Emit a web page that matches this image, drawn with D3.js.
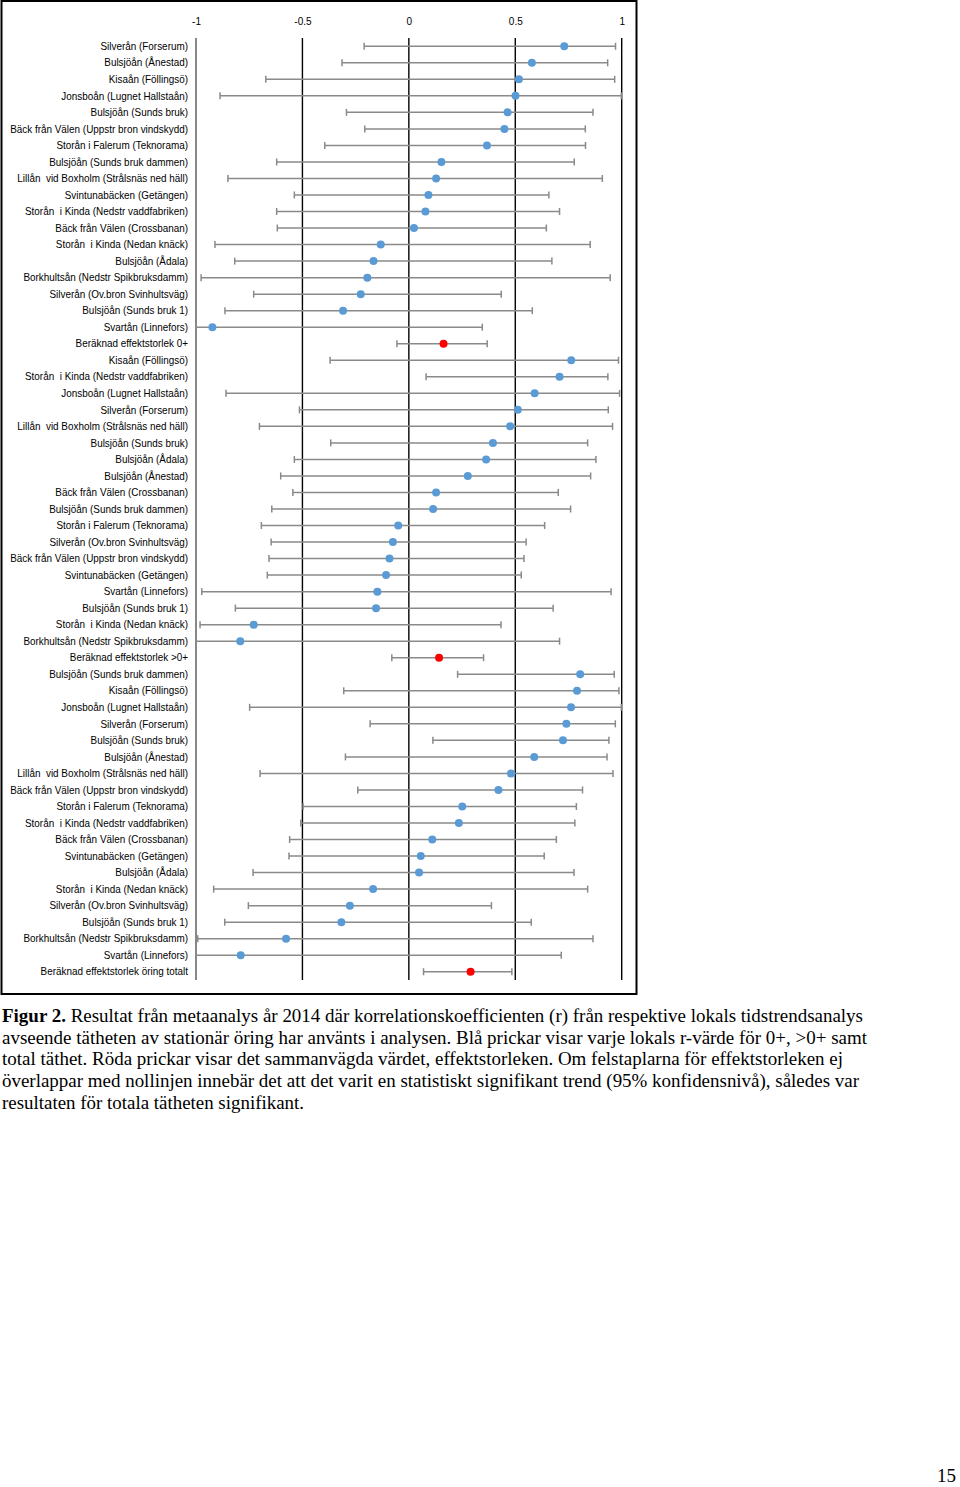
<!DOCTYPE html>
<html><head><meta charset="utf-8">
<script src="https://cdn.jsdelivr.net/npm/d3@7"></script>
<style>
html,body{margin:0;padding:0;background:#fff;}
svg{display:block;}
.lab{white-space:pre;}
</style></head>
<body>
<svg id="chart" width="960" height="1487"></svg>
<script>
// ---- data ----
const labels = [
"Silverån (Forserum)","Bulsjöån (Ånestad)","Kisaån (Föllingsö)","Jonsboån (Lugnet Hallstaån)","Bulsjöån (Sunds bruk)",
"Bäck från Välen (Uppstr bron vindskydd)","Storån i Falerum (Teknorama)","Bulsjöån (Sunds bruk dammen)","Lillån  vid Boxholm (Strålsnäs ned häll)",
"Svintunabäcken (Getängen)","Storån  i Kinda (Nedstr vaddfabriken)","Bäck från Välen (Crossbanan)","Storån  i Kinda (Nedan knäck)",
"Bulsjöån (Ådala)","Borkhultsån (Nedstr Spikbruksdamm)","Silverån (Ov.bron Svinhultsväg)","Bulsjöån (Sunds bruk 1)","Svartån (Linnefors)",
"Beräknad effektstorlek 0+",
"Kisaån (Föllingsö)","Storån  i Kinda (Nedstr vaddfabriken)","Jonsboån (Lugnet Hallstaån)","Silverån (Forserum)","Lillån  vid Boxholm (Strålsnäs ned häll)",
"Bulsjöån (Sunds bruk)","Bulsjöån (Ådala)","Bulsjöån (Ånestad)","Bäck från Välen (Crossbanan)","Bulsjöån (Sunds bruk dammen)",
"Storån i Falerum (Teknorama)","Silverån (Ov.bron Svinhultsväg)","Bäck från Välen (Uppstr bron vindskydd)","Svintunabäcken (Getängen)",
"Svartån (Linnefors)","Bulsjöån (Sunds bruk 1)","Storån  i Kinda (Nedan knäck)","Borkhultsån (Nedstr Spikbruksdamm)",
"Beräknad effektstorlek >0+",
"Bulsjöån (Sunds bruk dammen)","Kisaån (Föllingsö)","Jonsboån (Lugnet Hallstaån)","Silverån (Forserum)","Bulsjöån (Sunds bruk)",
"Bulsjöån (Ånestad)","Lillån  vid Boxholm (Strålsnäs ned häll)","Bäck från Välen (Uppstr bron vindskydd)","Storån i Falerum (Teknorama)",
"Storån  i Kinda (Nedstr vaddfabriken)","Bäck från Välen (Crossbanan)","Svintunabäcken (Getängen)","Bulsjöån (Ådala)",
"Storån  i Kinda (Nedan knäck)","Silverån (Ov.bron Svinhultsväg)","Bulsjöån (Sunds bruk 1)","Borkhultsån (Nedstr Spikbruksdamm)",
"Svartån (Linnefors)","Beräknad effektstorlek öring totalt"
];
const rValues = [
0.730,0.578,0.517,0.501,0.464,0.449,0.367,0.153,0.128,0.092,0.078,0.024,-0.132,-0.166,-0.195,-0.226,-0.309,-0.923,
0.163,
0.763,0.708,0.591,0.512,0.476,0.395,0.363,0.277,0.128,0.114,-0.050,-0.075,-0.091,-0.107,-0.148,-0.154,-0.729,-0.792,
0.142,
0.805,0.790,0.762,0.740,0.724,0.589,0.480,0.421,0.251,0.235,0.110,0.056,0.048,-0.168,-0.277,-0.317,-0.577,-0.790,
0.290
];
const lowerCI = [
-0.210,-0.314,-0.672,-0.887,-0.293,-0.207,-0.395,-0.621,-0.850,-0.538,-0.621,-0.618,-0.911,-0.818,-0.976,-0.729,-0.864,-1.0,
-0.056,
-0.370,0.081,-0.859,-0.514,-0.702,-0.367,-0.538,-0.602,-0.545,-0.644,-0.693,-0.647,-0.657,-0.665,-0.973,-0.815,-0.981,-1.0,
-0.080,
0.229,-0.306,-0.748,-0.182,0.113,-0.298,-0.699,-0.240,-0.497,-0.508,-0.560,-0.563,-0.732,-0.917,-0.754,-0.865,-0.992,-1.0,
0.069
];
const upperCI = [
0.971,0.934,0.967,0.998,0.865,0.829,0.830,0.777,0.909,0.658,0.708,0.646,0.852,0.672,0.946,0.434,0.580,0.345,
0.368,
0.985,0.935,0.990,0.937,0.957,0.840,0.879,0.854,0.702,0.760,0.638,0.551,0.541,0.528,0.950,0.678,0.433,0.708,
0.351,
0.965,0.987,0.998,0.970,0.940,0.931,0.959,0.816,0.787,0.780,0.693,0.636,0.776,0.840,0.388,0.575,0.865,0.716,
0.484
];
const tickValues = [-1,-0.5,0,0.5,1];
const tickLabels = ["-1","-0.5","0","0.5","1"];
const captionLines = [
" Resultat från metaanalys år 2014 där korrelationskoefficienten (r) från respektive lokals tidstrendsanalys",
"avseende tätheten av stationär öring har använts i analysen. Blå prickar visar varje lokals r-värde för 0+, >0+ samt",
"total täthet. Röda prickar visar det sammanvägda värdet, effektstorleken. Om felstaplarna för effektstorleken ej",
"överlappar med nollinjen innebär det att det varit en statistiskt signifikant trend (95% konfidensnivå), således var",
"resultaten för totala tätheten signifikant."
];

// ---- chart ----
const svg = d3.select("#chart");
const rows = labels.map((l,i)=>({i, label:l, r:rValues[i], lo:lowerCI[i], hi:upperCI[i], summary:l.startsWith("Beräknad")}));

const x = d3.scaleLinear().domain([-1,1]).range([196, 621.7]);
const y = d3.scaleBand().domain(rows.map(d=>d.i)).range([38, 980]).padding(0);
const cy = d => y(d.i) + y.bandwidth()/2;
const labelFont = "'Liberation Sans','Arial',sans-serif";

// frame
svg.append("rect").attr("x",1.5).attr("y",1).attr("width",635).attr("height",993)
  .attr("fill","none").attr("stroke","#000").attr("stroke-width",2);

// top axis labels
const ax = svg.append("g").attr("transform","translate(0,30)")
  .call(d3.axisTop(x).tickValues(tickValues).tickFormat((d,i)=>tickLabels[i]).tickSize(0).tickPadding(5));
ax.select(".domain").remove();
ax.selectAll("text").attr("font-family",labelFont).attr("font-size",10).attr("fill","#000");

// vertical grid lines
svg.append("g").selectAll("line").data(tickValues).join("line")
  .attr("x1",d=>x(d)).attr("x2",d=>x(d)).attr("y1",38).attr("y2",980)
  .attr("stroke",(d,i)=> i===0 ? "#555" : "#000").attr("stroke-width",1.4);

// category labels (condensed horizontally to mimic the narrow original font)
const labG = svg.append("g");
const labs = labG.selectAll("text").data(rows).join("text")
  .attr("class","lab")
  .attr("x",188).attr("y",d=>cy(d)).attr("dy","0.35em")
  .attr("text-anchor","end")
  .attr("font-family",labelFont)
  .attr("font-size",10.5).attr("fill","#000")
  .text(d=>d.label);
let maxW = 0;
labs.each(function(){ maxW = Math.max(maxW, this.getComputedTextLength()); });
const sx = maxW > 0 ? 178 / maxW : 1;
labG.attr("transform",`translate(188,0) scale(${sx},1) translate(-188,0)`);

// error bars
const eb = svg.append("g").attr("stroke","#8a8a8a").attr("stroke-width",1.5);
eb.selectAll("line.bar").data(rows).join("line").attr("class","bar")
  .attr("x1",d=>x(d.lo)).attr("x2",d=>x(d.hi)).attr("y1",cy).attr("y2",cy);
eb.selectAll("line.capl").data(rows).join("line").attr("class","capl")
  .attr("x1",d=>x(d.lo)).attr("x2",d=>x(d.lo)).attr("y1",d=>cy(d)-3.5).attr("y2",d=>cy(d)+3.5);
eb.selectAll("line.caph").data(rows).join("line").attr("class","caph")
  .attr("x1",d=>x(d.hi)).attr("x2",d=>x(d.hi)).attr("y1",d=>cy(d)-3.5).attr("y2",d=>cy(d)+3.5);

// points
svg.append("g").selectAll("circle").data(rows).join("circle")
  .attr("cx",d=>x(d.r)).attr("cy",cy).attr("r",4)
  .attr("fill",d=>d.summary ? "#ff0000" : "#5b9bd5");

// caption
const cap = svg.append("g").attr("font-family","'Liberation Serif','Times New Roman',serif").attr("font-size",18).attr("fill","#000");
const baselines = [1022,1044,1065,1087,1109];
const widths = [861,865,841,857,302];
captionLines.forEach((t,i)=>{
  const te = cap.append("text").attr("x",2).attr("y",baselines[i])
    .attr("textLength",widths[i]).attr("lengthAdjust","spacingAndGlyphs");
  if(i===0){
    te.append("tspan").attr("font-weight","bold").text("Figur 2.");
    te.append("tspan").text(t);
  } else te.text(t);
});

// page number
svg.append("text").attr("x",956).attr("y",1482).attr("text-anchor","end")
  .attr("font-family","'Liberation Serif','Times New Roman',serif").attr("font-size",19).text("15");
</script>
</body></html>
